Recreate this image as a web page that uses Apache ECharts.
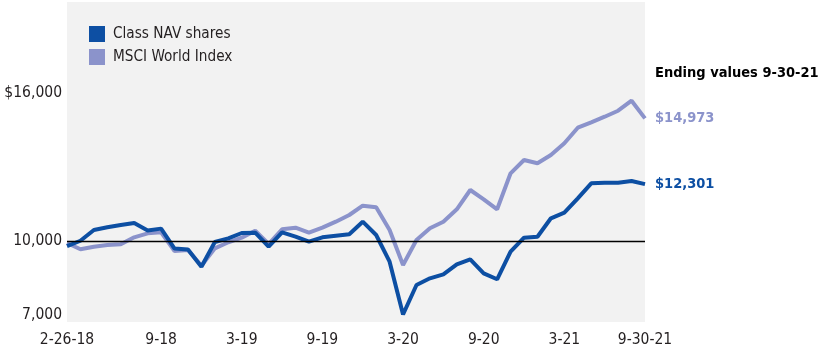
<!DOCTYPE html>
<html>
<head>
<meta charset="utf-8">
<script src="https://cdn.jsdelivr.net/npm/echarts@6/dist/echarts.min.js"></script>
<style>
html,body{margin:0;padding:0;background:#fff;}
#chart{width:820px;height:350px;}
</style>
</head>
<body>
<div id="chart"></div>
<script>
// Months from 2-26-18 through 9-30-21
const categories = [
  "2-26-18","3-18","4-18","5-18","6-18","7-18","8-18","9-18","10-18","11-18","12-18",
  "1-19","2-19","3-19","4-19","5-19","6-19","7-19","8-19","9-19","10-19","11-19","12-19",
  "1-20","2-20","3-20","4-20","5-20","6-20","7-20","8-20","9-20","10-20","11-20","12-20",
  "1-21","2-21","3-21","4-21","5-21","6-21","7-21","8-21","9-30-21"
];
const tickLabels = ["2-26-18","9-18","3-19","9-19","3-20","9-20","3-21","9-30-21"];
const yLabelValues = [7000, 10000, 16000];

const classNAV = [
  9780,10000,10438,10547,10641,10722,10421,10494,9682,9641,8947,
  9950,10100,10316,10328,9759,10344,10165,9962,10141,10206,10263,10775,
  10234,9150,7005,8203,8475,8638,9044,9247,8678,8435,9556,10125,
  10165,10913,11140,11725,12335,12360,12360,12428,12301
];
const msciWorld = [
  9909,9653,9759,9828,9857,10141,10303,10344,9584,9625,8987,
  9694,9938,10125,10409,9869,10466,10531,10328,10531,10775,11047,11425,
  11360,10438,9016,10031,10507,10775,11278,12063,11685,11278,12741,13281,
  13147,13484,13960,14593,14813,15040,15284,15690,14973
];
const seriesNames = ["Class NAV shares", "MSCI World Index"];
const endingTitle = "Ending values 9-30-21";

const DARK = "#0d4fa3";
const LIGHT = "#8b93cb";
const TXT = "#231f20";
const FONT = "'DejaVu Sans Condensed',sans-serif";
const BFONT = "'DejaVu Sans Condensed',sans-serif";

function fmt(v){ return v.toLocaleString('en-US'); }

const chart = echarts.init(document.getElementById('chart'), null, {renderer:'canvas'});
const yMin = 6700, yMax = 19700;
const gridTop = 2, gridBottom = 28;
const plotH = 350 - gridTop - gridBottom;
function yPix(v){ return gridTop + (yMax - v) / (yMax - yMin) * plotH; }

chart.setOption({
  animation: false,
  grid: { left: 67, right: 175, top: gridTop, bottom: gridBottom, show: true,
          backgroundColor: '#f2f2f2', borderWidth: 0, containLabel: false,
          outerBoundsMode: 'none' },
  legend: {
    data: seriesNames,
    orient: 'vertical', left: 84, top: 21, padding: 5,
    itemWidth: 16, itemHeight: 16, itemGap: 7, icon: 'rect',
    textStyle: { fontFamily: FONT, fontSize: 15.2, color: TXT, padding: [0,0,0,3] },
    selectedMode: false
  },
  xAxis: {
    type: 'category', data: categories, boundaryGap: false,
    axisLine: { show: false }, axisTick: { show: false }, splitLine: { show: false },
    axisLabel: {
      interval: (idx, val) => tickLabels.includes(val),
      margin: 10, fontFamily: FONT, fontSize: 15.5, color: TXT
    }
  },
  yAxis: {
    type: 'value', min: yMin, max: yMax,
    axisLine: { show: false }, axisTick: { show: false }, splitLine: { show: false },
    axisLabel: {
      customValues: yLabelValues,
      formatter: v => (v === 16000 ? '$' : '') + fmt(v),
      margin: 5, fontFamily: FONT, fontSize: 15.5, color: TXT
    }
  },
  series: [
    { name: seriesNames[1], type: 'line', data: msciWorld, showSymbol: false, symbol: 'none',
      lineStyle: { color: LIGHT, width: 4 }, itemStyle: { color: LIGHT }, z: 2,
      markLine: { silent: true, symbol: 'none', label: { show: false },
        lineStyle: { color: '#000', width: 1.3, type: 'solid' },
        data: [{ yAxis: 10000 }] } },
    { name: seriesNames[0], type: 'line', data: classNAV, showSymbol: false, symbol: 'none',
      lineStyle: { color: DARK, width: 4 }, itemStyle: { color: DARK }, z: 3 }
  ],
  graphic: [
    { type: 'text', x: 655, y: 73, style: { text: endingTitle, fill: '#000',
      font: "bold 14.5px " + BFONT, verticalAlign: 'middle', align: 'left' } },
    { type: 'text', x: 655, y: yPix(msciWorld[msciWorld.length-1]), style: {
      text: '$' + fmt(msciWorld[msciWorld.length-1]), fill: LIGHT, font: "bold 14.5px " + BFONT,
      verticalAlign: 'middle', align: 'left' } },
    { type: 'text', x: 655, y: yPix(classNAV[classNAV.length-1]), style: {
      text: '$' + fmt(classNAV[classNAV.length-1]), fill: DARK, font: "bold 14.5px " + BFONT,
      verticalAlign: 'middle', align: 'left' } }
  ]
});
</script>
</body>
</html>
